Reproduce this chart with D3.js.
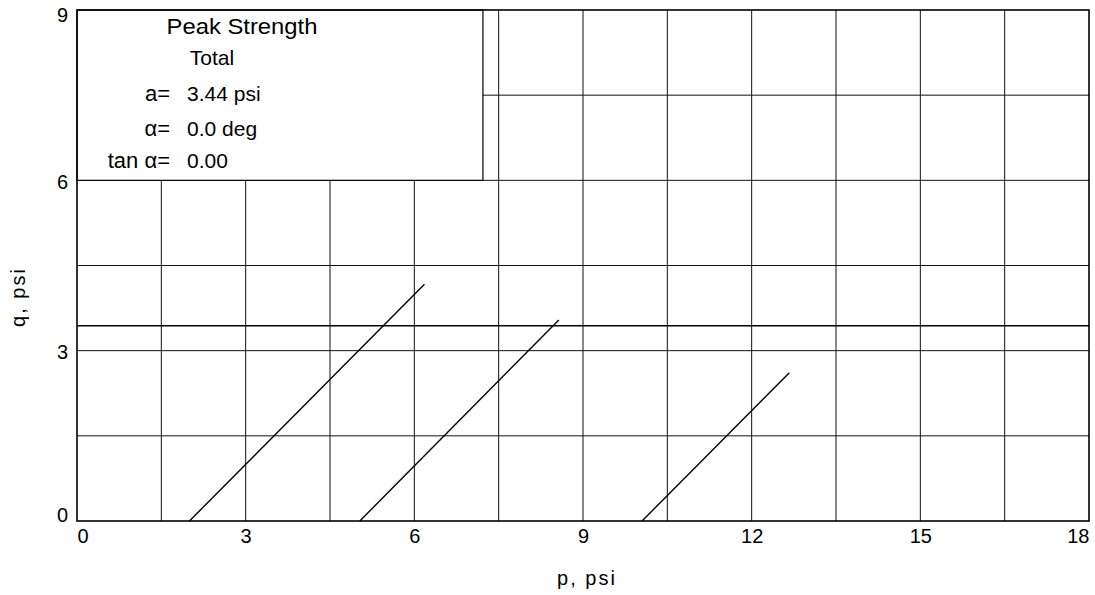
<!DOCTYPE html>
<html><head><meta charset="utf-8">
<script src="https://cdn.jsdelivr.net/npm/d3@7"></script>
<style>body{margin:0;background:#fff}svg{display:block}text{font-family:"Liberation Sans",Arial,sans-serif;fill:#000}</style>
</head><body><svg id="c" width="1095" height="595"></svg>
<script>
const xTicks = [0, 3, 6, 9, 12, 15, 18];
const yTicks = [0, 3, 6, 9];
const xGrid = [1.5, 3, 4.5, 6, 7.5, 9, 10.5, 12, 13.5, 15, 16.5];
const yGrid = [1.5, 3, 4.5, 6, 7.5];
const pathStartP = [2.0, 5.03, 10.05];
const pathEndP = [6.18, 8.57, 12.67];
const pathEndQ = [4.17, 3.54, 2.61];
const failureA = 3.44;
const legendLabels = ["a=", "\u03b1=", "tan \u03b1="];
const legendValues = ["3.44 psi", "0.0 deg", "0.00"];

const FONT = "'Liberation Sans',Arial,sans-serif";
const svg = d3.select("#c");
const m = {l: 77, r: 1089, t: 10, b: 521};
const x = d3.scaleLinear().domain([0, 18]).range([m.l, m.r]);
const y = d3.scaleLinear().domain([0, 9]).range([m.b, m.t]);

// grid
svg.append("g").selectAll("line").data(xGrid).join("line")
  .attr("x1", d => x(d)).attr("x2", d => x(d)).attr("y1", y(0)).attr("y2", y(9))
  .attr("stroke", "#111").attr("stroke-width", 1);
svg.append("g").selectAll("line").data(yGrid).join("line")
  .attr("y1", d => y(d)).attr("y2", d => y(d)).attr("x1", x(0)).attr("x2", x(18))
  .attr("stroke", "#111").attr("stroke-width", 1);

// failure line
svg.append("line").attr("x1", x(0)).attr("x2", x(18)).attr("y1", y(failureA)).attr("y2", y(failureA))
  .attr("stroke", "#000").attr("stroke-width", 1.6);

// stress paths
svg.append("g").selectAll("line").data(pathStartP).join("line")
  .attr("x1", d => x(d)).attr("y1", y(0))
  .attr("x2", (d, i) => x(pathEndP[i])).attr("y2", (d, i) => y(pathEndQ[i]))
  .attr("stroke", "#000").attr("stroke-width", 1.4);

// legend box
svg.append("rect").attr("x", x(0)).attr("y", y(9)).attr("width", x(7.22) - x(0)).attr("height", y(6) - y(9))
  .attr("fill", "#fff").attr("stroke", "#000").attr("stroke-width", 1.2);

// frame
svg.append("rect").attr("x", m.l).attr("y", m.t).attr("width", m.r - m.l).attr("height", m.b - m.t)
  .attr("fill", "none").attr("stroke", "#000").attr("stroke-width", 1.6);

// tick labels
const xAxis = d3.axisBottom(x).tickValues(xTicks).tickSize(0).tickPadding(6).tickFormat(d3.format("d"));
const gx = svg.append("g").attr("transform", `translate(0,${m.b})`).call(xAxis);
gx.select(".domain").remove();
gx.selectAll("text").style("font-size", "20px").style("font-family", FONT)
  .attr("dy", null).attr("y", 22)
  .attr("text-anchor", (d, i) => i === 0 ? "start" : (i === xTicks.length - 1 ? "end" : "middle"));
const yAxis = d3.axisLeft(y).tickValues(yTicks).tickSize(0).tickPadding(9).tickFormat(d3.format("d"));
const gy = svg.append("g").attr("transform", `translate(${m.l},0)`).call(yAxis);
gy.select(".domain").remove();
gy.selectAll("text").style("font-size", "20px").style("font-family", FONT)
  .attr("dy", null)
  .attr("y", (d, i) => i === 0 ? 0 : (i === yTicks.length - 1 ? 11 : 8));

svg.append("text").attr("x", 587).attr("y", 585).attr("text-anchor", "middle")
  .style("font-size", "20px").style("letter-spacing", "2px").text("p, psi");
svg.append("text").attr("transform", "translate(25,297) rotate(-90)").attr("text-anchor", "middle")
  .style("font-size", "20px").style("letter-spacing", "2px").text("q, psi");

// legend text
svg.append("text").attr("x", 242).attr("y", 34).attr("text-anchor", "middle").style("font-size", "22px")
  .attr("textLength", 151).attr("lengthAdjust", "spacingAndGlyphs").text("Peak Strength");
svg.append("text").attr("x", 212).attr("y", 65).attr("text-anchor", "middle").style("font-size", "21px").text("Total");
const rowsY = [101, 136, 168];
legendLabels.forEach((t, i) => {
  svg.append("text").attr("x", 170).attr("y", rowsY[i]).attr("text-anchor", "end").style("font-size", "22px").text(t);
  svg.append("text").attr("x", 187).attr("y", rowsY[i]).style("font-size", "21px").text(legendValues[i]);
});
</script></body></html>
